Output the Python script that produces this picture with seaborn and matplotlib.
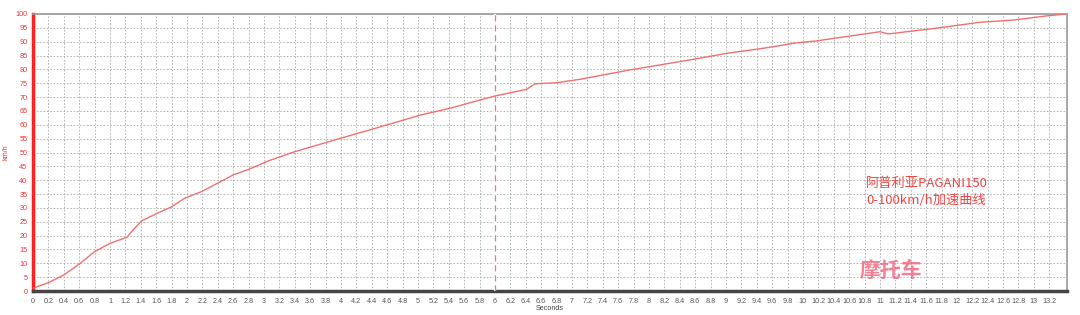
import numpy as np
import pandas as pd
import matplotlib
matplotlib.use("Agg")
import matplotlib.pyplot as plt
import seaborn as sns

# ---- data ----
time_s = [0, 0.2, 0.4, 0.6, 0.8, 1.0, 1.22, 1.3, 1.41, 1.61, 1.8, 1.97, 2.19, 2.41,
          2.6, 2.8, 3.06, 3.4, 3.99, 4.59, 5.03, 5.42, 6.0, 6.41, 6.52, 6.8, 7.1,
          7.75, 8.14, 8.57, 9.01, 9.48, 9.92, 10.18, 10.6, 11.0, 11.11, 11.65,
          12.3, 12.73, 13.16, 13.42]
speed_kmh = [1.0, 3.0, 5.8, 9.7, 14.2, 17.2, 19.4, 22.0, 25.3, 28.0, 30.4, 33.5,
             35.9, 39.1, 41.9, 43.9, 47.0, 50.3, 55.1, 59.9, 63.5, 66.0, 70.4,
             72.8, 74.8, 75.2, 76.4, 79.8, 81.6, 83.6, 85.8, 87.6, 89.6, 90.3,
             92.0, 93.6, 92.8, 94.6, 97.0, 97.8, 99.3, 100.0]
x_ticks = [round(v, 1) for v in np.arange(0, 13.21, 0.2)]
y_ticks = list(range(0, 101, 5))
marker_time = 6
title_lines = ["阿普利亚PAGANI150", "0-100km/h加速曲线"]
watermark = "摩托车"

df = pd.DataFrame({"Seconds": time_s, "km/h": speed_kmh})

sns.set_style("white")
plt.rcParams['font.family'] = ['Liberation Sans', 'DejaVu Sans']

fig = plt.figure(figsize=(10.8, 3.15), dpi=100)
ax = fig.add_axes([33/1080, 24/315, (1067-33)/1080, (291-14)/315])
ax.set_axisbelow(True)

ax.grid(True, color="#a8a8a8", linestyle=(0, (2, 2)), linewidth=0.6)
# marker line at 6 s, on a white backing so it is not mixed with the grid dashes
ax.vlines(marker_time, 0, 100, colors="white", linewidth=1.6, zorder=4)
ax.vlines(marker_time, 0, 100, colors="#f07878", linestyles=(0, (5, 3)),
          linewidth=0.9, zorder=5)

sns.lineplot(data=df, x="Seconds", y="km/h", ax=ax, color="#f07070",
             linewidth=1.0, zorder=6)

ax.set_xlim(0, 13.43)
ax.set_ylim(0, 100)
ax.set_xticks(x_ticks)
ax.set_xticklabels([f"{v:g}" for v in x_ticks])
ax.set_yticks(y_ticks)
ax.set_yticklabels([str(v) for v in y_ticks])

ax.tick_params(axis="x", labelsize=5.2, labelcolor="#555555", length=2, width=0.6,
               color="#555555", pad=3)
ax.tick_params(axis="y", labelsize=5.2, labelcolor="#ee3333", length=2, width=0.6,
               color="#ee3333", pad=2)

for side in ["top", "right"]:
    ax.spines[side].set_color("#999999")
    ax.spines[side].set_linewidth(1.2)
ax.spines["left"].set_color("#ff2020")
ax.spines["left"].set_linewidth(2.5)
ax.spines["bottom"].set_color("#444444")
ax.spines["bottom"].set_linewidth(2.5)

ax.set_xlabel("Seconds", fontsize=5.2, color="#444444", labelpad=0)
ax.set_ylabel("km/h", fontsize=5.2, color="#ee3333", labelpad=4)

cjk = ['Noto Sans CJK SC', 'DejaVu Sans']
fig.text(866/1080, 1 - 183/315, title_lines[0], fontsize=9.5, color="#ee4444",
         family=cjk, va="center", ha="left")
fig.text(866/1080, 1 - 200/315, title_lines[1], fontsize=9.5, color="#ee4444",
         family=cjk, va="center", ha="left")
fig.text(860/1080, 1 - 270/315, watermark, fontsize=15, color="#f06a80", alpha=0.85,
         family=cjk, fontweight="bold", style="italic", va="center", ha="left")

fig.savefig("out.png", dpi=100)
